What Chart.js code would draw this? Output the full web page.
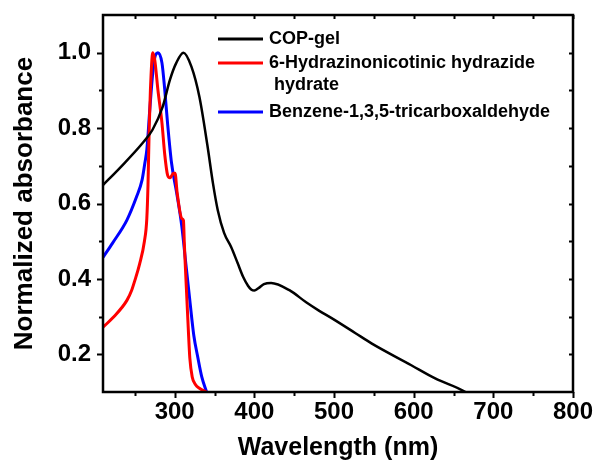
<!DOCTYPE html>
<html>
<head>
<meta charset="utf-8">
<script src="https://cdn.jsdelivr.net/npm/chart.js@4"></script>
<style>
  html, body { margin: 0; padding: 0; background: #fff; }
  #wrap { width: 596px; height: 464px; }
</style>
</head>
<body>
<div id="wrap"><canvas id="uv"></canvas></div>
<script>
// UV-vis spectra, normalized
var copWl  = [210, 231, 260, 272, 285, 294, 302, 311, 321, 331, 341, 348, 354, 362, 371, 379, 386, 392, 396, 400, 405, 412, 421, 444, 465, 481, 497, 527, 547, 597, 627, 665, 672];
var copAbs = [0.649, 0.694, 0.761, 0.795, 0.857, 0.928, 0.973, 1.0, 0.963, 0.883, 0.755, 0.654, 0.583, 0.522, 0.484, 0.442, 0.405, 0.382, 0.372, 0.369, 0.375, 0.386, 0.389, 0.370, 0.338, 0.316, 0.296, 0.256, 0.229, 0.171, 0.136, 0.100, 0.090];

var hydWl  = [210, 222, 240, 246, 250, 256, 262, 265, 266.5, 268, 269.5, 272.5, 275, 279, 284, 287.5, 291, 294, 298.5, 300.5, 303, 309, 311, 312, 313, 315, 317, 319, 322, 326, 331, 340];
var hydAbs = [0.272, 0.296, 0.343, 0.370, 0.396, 0.440, 0.500, 0.560, 0.650, 0.80, 0.90, 1.0, 0.98, 0.90, 0.814, 0.73, 0.676, 0.668, 0.68, 0.68, 0.63, 0.56, 0.555, 0.50, 0.45, 0.36, 0.27, 0.19, 0.14, 0.12, 0.11, 0.10];

var btcWl  = [210, 222, 240, 252, 259, 262.5, 265, 269, 272.5, 275, 279, 284, 287.5, 291, 296, 302.5, 309, 314, 319, 324, 329, 334, 340];
var btcAbs = [0.457, 0.495, 0.556, 0.617, 0.662, 0.707, 0.742, 0.857, 0.947, 0.987, 1.0, 0.973, 0.902, 0.814, 0.708, 0.628, 0.538, 0.44, 0.343, 0.25, 0.192, 0.14, 0.10];

var seriesNames  = ['COP-gel', ['6-Hydrazinonicotinic hydrazide', ' hydrate'], 'Benzene-1,3,5-tricarboxaldehyde'];
var seriesColors = ['#000000', '#ff0000', '#0000ff'];

var xTicks = [300, 400, 500, 600, 700, 800];
var xMinorTicks = [250, 350, 450, 550, 650, 750];
var yTicks = [0.2, 0.4, 0.6, 0.8, 1.0];
var yMinorTicks = [0.3, 0.5, 0.7, 0.9];

var FONT = "'Liberation Sans', Arial, sans-serif";

function toPoints(xs, ys) {
	return xs.map(function(x, i) { return { x: x, y: ys[i] }; });
}

// box, tick marks and the legend block
var framePlugin = {
	id: 'frame',
	afterDraw: function(chart) {
		var ctx = chart.ctx;
		var a = chart.chartArea;
		var sx = chart.scales.x, sy = chart.scales.y;
		ctx.save();
		ctx.strokeStyle = '#000';
		ctx.lineCap = 'butt';

		ctx.lineWidth = 2;
		ctx.beginPath();
		function xTick(v, len, topLen) {
			var p = Math.round(sx.getPixelForValue(v)) + 0.5;
			ctx.moveTo(p, a.bottom); ctx.lineTo(p, a.bottom + len);
			ctx.moveTo(p, a.top); ctx.lineTo(p, a.top + topLen);
		}
		function yTick(v, len, rightLen) {
			var p = Math.round(sy.getPixelForValue(v)) + 0.5;
			ctx.moveTo(a.left, p); ctx.lineTo(a.left - len, p);
			ctx.moveTo(a.right, p); ctx.lineTo(a.right - rightLen, p);
		}
		xTicks.forEach(function(v) { xTick(v, 6, 4); });
		xMinorTicks.forEach(function(v) { xTick(v, 4, 4); });
		yTicks.forEach(function(v) { yTick(v, 6, 4); });
		yMinorTicks.forEach(function(v) { yTick(v, 4, 4); });
		ctx.stroke();

		ctx.lineWidth = 2.5;
		ctx.strokeRect(a.left, a.top, a.right - a.left, a.bottom - a.top);

		// legend
		var rows = [39, 63, 112];
		ctx.font = 'bold 18px ' + FONT;
		ctx.textBaseline = 'middle';
		ctx.fillStyle = '#000';
		rows.forEach(function(y, i) {
			ctx.strokeStyle = seriesColors[i];
			ctx.lineWidth = 3;
			ctx.beginPath();
			ctx.moveTo(218, y);
			ctx.lineTo(263, y);
			ctx.stroke();
			var lines = [].concat(seriesNames[i]);
			lines.forEach(function(t, j) {
				ctx.fillText(t, 269, y + j * 22);
			});
		});
		ctx.restore();
	}
};

new Chart(document.getElementById('uv'), {
	type: 'line',
	data: {
		datasets: [
			{ label: 'COP-gel', data: toPoints(copWl, copAbs), borderColor: seriesColors[0], borderWidth: 2.5 },
			{ label: '6-Hydrazinonicotinic hydrazide hydrate', data: toPoints(hydWl, hydAbs), borderColor: seriesColors[1], borderWidth: 3 },
			{ label: 'Benzene-1,3,5-tricarboxaldehyde', data: toPoints(btcWl, btcAbs), borderColor: seriesColors[2], borderWidth: 3 }
		]
	},
	options: {
		responsive: true,
		maintainAspectRatio: false,
		animation: false,
		elements: {
			point: { radius: 0 },
			line: { cubicInterpolationMode: 'monotone', fill: false }
		},
		layout: { padding: { top: 15, right: 23, left: 0, bottom: 0 } },
		plugins: {
			legend: { display: false },
			tooltip: { enabled: false }
		},
		scales: {
			x: {
				type: 'linear',
				min: 210,
				max: 800,
				grid: { display: false, drawTicks: false },
				border: { display: false },
				afterBuildTicks: function(scale) {
					scale.ticks = xTicks.map(function(v) { return { value: v }; });
				},
				afterFit: function(scale) {
					scale.height = 72;
					scale.paddingLeft = 0;
					scale.paddingRight = 0;
				},
				ticks: {
					color: '#000',
					padding: 6,
					maxRotation: 0,
					font: { family: FONT, size: 24, weight: 'bold' }
				},
				title: {
					display: true,
					text: 'Wavelength (nm)',
					color: '#000',
					padding: { top: 0, bottom: 1 },
					font: { family: FONT, size: 25, weight: 'bold' }
				}
			},
			y: {
				type: 'linear',
				min: 0.1,
				max: 1.1,
				grid: { display: false, drawTicks: false },
				border: { display: false },
				afterBuildTicks: function(scale) {
					scale.ticks = yTicks.map(function(v) { return { value: v }; });
				},
				afterFit: function(scale) {
					scale.width = 103;
					scale.paddingTop = 0;
					scale.paddingBottom = 0;
				},
				ticks: {
					color: '#000',
					padding: 12,
					font: { family: FONT, size: 24, weight: 'bold' },
					callback: function(v) { return Number(v).toFixed(1); }
				},
				title: {
					display: true,
					text: 'Normalized absorbance',
					color: '#000',
					padding: { top: 9, bottom: 0 },
					font: { family: FONT, size: 26, weight: 'bold' }
				}
			}
		}
	},
	plugins: [framePlugin]
});
</script>
</body>
</html>
